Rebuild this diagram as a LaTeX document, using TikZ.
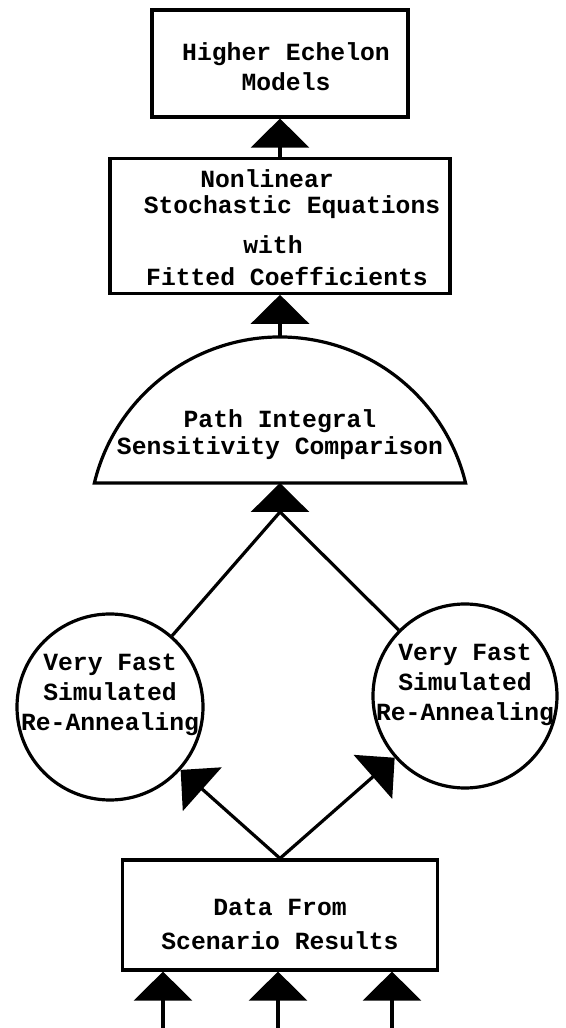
\documentclass[tikz,border=0pt]{standalone}
\usepackage{fontspec}
\setmonofont{Liberation Mono}
\usepackage{tikz}
\usetikzlibrary{positioning,arrows.meta}
\newcommand{\nodetext}[3][0pt]{\makebox[0pt]{\kern#1\raisebox{#2}[0pt][0pt]{\begin{tabular}{@{}c@{}}#3\end{tabular}}}}

\begin{document}
\begin{tikzpicture}[x=1pt, y=1pt,
    every node/.style={font=\fontsize{24.7}{30}\selectfont\ttfamily\bfseries},
    boxnode/.style={rectangle, draw, line width=3.2pt, inner sep=0pt},
    roundnode/.style={circle, draw, line width=3.2pt, inner sep=0pt},
    arr/.style={line width=3.2pt, -{Triangle[width=58pt,length=29pt]}},]
    \useasboundingbox (0,0) rectangle (565,1028);
    %Nodes
    \node[boxnode, minimum width=256pt, minimum height=107pt] (hem) at (280,964.5) {\nodetext[12pt]{-12pt}{Higher Echelon\\Models}};
    \node[boxnode, minimum width=340pt, minimum height=135pt] (nse) [below=38pt of hem] {\nodetext{-11.5pt}{Nonlinear\kern26pt\\[-4pt]\kern24pt Stochastic Equations\\[10pt]with\kern14pt\\[2pt]\kern14pt Fitted Coefficients}};
    \node (pisc) at (280,594.5) {\nodetext{-8pt}{Path Integral\\[-3pt]Sensitivity Comparison}};
    \node[roundnode, minimum size=186pt] (vfsr1) at (110,321) {\nodetext{6.5pt}{Very Fast\\Simulated\\Re-Annealing}};
    \node[roundnode, minimum size=184pt] (vfsr2) at (465,332) {\nodetext{5.5pt}{Very Fast\\Simulated\\Re-Annealing}};
    \node[boxnode, minimum width=315pt, minimum height=110pt] (data) at (280,113) {\nodetext{-18pt}{Data From\\[4pt]Scenario Results}};

    \coordinate (domeL) at (94.35,545);
    \coordinate (domeTop) at (280,691);
    \coordinate (domeBase) at (280,545);
    \coordinate (join) at (280,516);
    \coordinate (in1) at (163,0);
    \coordinate (in2) at (278,0);
    \coordinate (in3) at (392,0);

    %Dome
    \draw[line width=3.2pt] (domeL) arc[start angle=166.37, end angle=13.63, radius=191] -- cycle;

    % %Lines
    \draw[arr] (nse) -- (hem);
    \draw[arr] (domeTop) -- (nse);
    \draw[arr] (join) -- (domeBase);
    \draw[line width=3.2pt] (vfsr1) -- (join) -- (vfsr2);
    \draw[arr] (data.north) -- (vfsr1);
    \draw[arr] (data.north) -- (vfsr2);
    \foreach \i in {1,2,3}
        \draw[arr] (in\i) -- (in\i |- data.south);
  \end{tikzpicture}
\end{document}
